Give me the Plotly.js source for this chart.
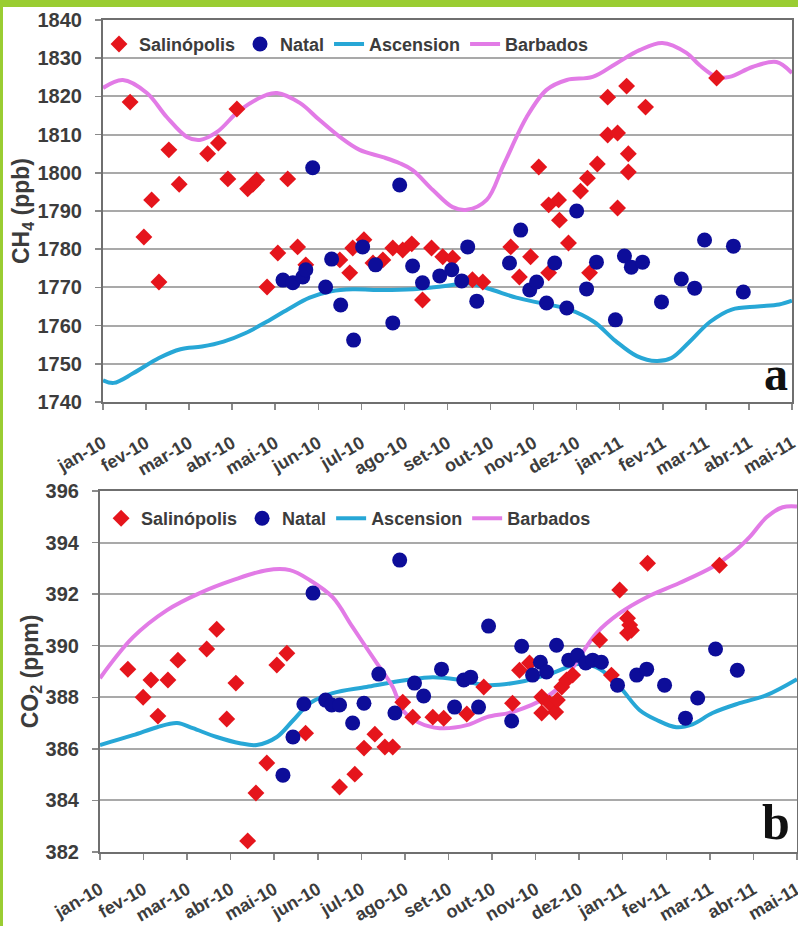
<!DOCTYPE html>
<html><head><meta charset="utf-8">
<script src="https://cdn.plot.ly/plotly-3.0.1.min.js"></script>
<style>
html,body{margin:0;padding:0;background:#fff;}
#wrap{position:relative;width:798px;height:926px;overflow:hidden;}
#chart{width:798px;height:926px;}
#frame{position:absolute;left:0;top:0;width:798px;height:926px;box-sizing:border-box;border-top:7px solid #9acd32;border-left:3px solid #9acd32;pointer-events:none;}
</style></head><body>
<div id="wrap"><div id="chart"></div><div id="frame"></div></div>
<script>
// Month tick labels (month index 0 = jan-10)
const monthLabels = ["jan-10","fev-10","mar-10","abr-10","mai-10","jun-10","jul-10","ago-10","set-10","out-10","nov-10","dez-10","jan-11","fev-11","mar-11","abr-11","mai-11"];
const monthTicks = [0,1,2,3,4,5,6,7,8,9,10,11,12,13,14,15,16];

// ---- Panel a: CH4 (ppb) ----
const ch4SalMonth = [0.63,0.95,1.13,1.30,1.53,1.77,2.43,2.68,2.90,3.11,3.36,3.48,3.57,3.81,4.06,4.29,4.52,4.71,5.50,5.73,5.80,6.06,6.27,6.50,6.73,6.96,7.17,7.42,7.63,7.89,8.12,8.58,8.82,9.47,9.67,9.93,10.12,10.35,10.35,10.58,10.60,10.81,11.09,11.25,11.30,11.48,11.72,11.72,11.95,11.95,12.16,12.20,12.20,12.60,14.25];
const ch4SalValue = [1818.5,1783.2,1792.9,1771.4,1806,1797,1805,1807.8,1798.4,1816.7,1795.8,1797,1798.1,1770.1,1779,1798.4,1780.6,1775.9,1777.2,1773.8,1780.3,1782.5,1776.4,1777.2,1780.3,1779.8,1781.4,1766.7,1780.3,1778,1777.7,1772,1771.4,1780.6,1772.7,1778,1801.5,1791.6,1773.8,1792.9,1787.6,1781.6,1795.2,1798.6,1773.8,1802.3,1819.8,1809.9,1810.4,1790.8,1822.7,1805,1800.2,1817.2,1824.8];

const ch4NatMonth = [4.18,4.41,4.64,4.71,4.87,5.17,5.31,5.52,5.82,6.03,6.33,6.73,6.89,7.19,7.42,7.82,8.10,8.33,8.47,8.68,9.44,9.70,9.91,10.07,10.30,10.49,10.77,11.00,11.23,11.46,11.90,12.11,12.27,12.53,12.97,13.43,13.74,13.97,14.64,14.87];
const ch4NatValue = [1771.9,1771.2,1772.7,1774.6,1801.3,1770.1,1777.4,1765.4,1756.2,1780.6,1775.9,1760.7,1796.8,1775.6,1771.2,1773,1774.6,1771.7,1780.6,1766.4,1776.4,1785,1769.3,1771.4,1765.9,1776.4,1764.6,1790,1769.6,1776.6,1761.5,1778.2,1775.3,1776.6,1766.2,1772.2,1769.8,1782.4,1780.8,1768.8];

const ch4AscMonth = [0,0.25,0.7,1.3,1.8,2.3,2.8,3.3,3.8,4.3,4.8,5.3,5.8,6.5,7.2,7.9,8.5,9.0,9.6,10.2,10.8,11.4,11.9,12.4,12.85,13.2,13.6,14.1,14.6,15.2,15.7,16];
const ch4AscValue = [1745.7,1745,1747.5,1751.5,1753.8,1754.5,1755.8,1758,1761,1764.3,1767.3,1769,1769.5,1769.3,1769.5,1770.3,1771,1769.5,1767.3,1765.8,1764.3,1761,1756,1752,1750.7,1751.5,1755.5,1761,1764.2,1765,1765.5,1766.5];

const ch4BarMonth = [0,0.46,1.02,1.48,1.95,2.25,2.65,3.18,3.80,4.04,4.57,5.03,5.50,5.96,6.50,6.89,7.19,7.66,8.12,8.45,8.91,9.30,9.84,10.30,10.77,11.37,11.93,12.46,12.99,13.55,13.85,14.25,14.55,15.08,15.64,16];
const ch4BarValue = [1822.2,1824.3,1820.9,1814.6,1809.4,1808.6,1810.7,1816.4,1820.4,1820.9,1818.3,1813.8,1809.4,1806,1804.1,1802.5,1800.7,1795.5,1791,1790.3,1792.9,1802,1814.6,1821.7,1824.3,1825.1,1828.7,1832.1,1834,1831.4,1828.2,1825.1,1825.1,1827.7,1829,1826.1];

// ---- Panel b: CO2 (ppm) ----
const co2SalMonth = [0.64,0.99,1.17,1.33,1.56,1.79,2.45,2.68,2.91,3.12,3.39,3.58,3.83,4.06,4.29,4.72,5.50,5.85,6.06,6.31,6.54,6.72,6.95,7.18,7.64,7.89,8.42,8.81,9.47,9.63,9.86,10.14,10.14,10.32,10.46,10.50,10.60,10.71,10.85,11.47,11.74,11.93,12.11,12.16,12.20,12.11,12.57,14.22];
const co2SalValue = [389.09,388.0,388.67,387.27,388.67,389.44,389.87,390.64,387.16,388.55,382.43,384.29,385.45,389.25,389.71,386.61,384.52,385.02,386.03,386.57,386.07,386.07,387.81,387.23,387.23,387.19,387.35,388.40,387.77,389.05,389.33,388.01,387.39,387.77,387.43,387.89,388.40,388.67,388.86,390.22,388.86,392.16,391.07,390.80,390.60,390.49,393.2,393.12];

const co2NatMonth = [4.20,4.43,4.68,4.89,5.18,5.32,5.50,5.80,6.06,6.40,6.77,6.88,7.22,7.43,7.84,8.14,8.35,8.51,8.69,8.92,9.45,9.68,9.93,10.11,10.25,10.48,10.76,10.96,11.15,11.31,11.51,11.88,12.32,12.55,12.96,13.44,13.72,14.13,14.63];
const co2NatValue = [384.98,386.46,387.74,392.04,387.89,387.70,387.70,387.0,387.77,388.9,387.39,393.32,388.55,388.05,389.09,387.62,388.67,388.78,387.62,390.76,387.08,389.98,388.86,389.36,388.98,390.02,389.44,389.63,389.33,389.44,389.36,388.47,388.86,389.09,388.47,387.19,387.97,389.87,389.05];

const co2AscMonth = [0,0.76,1.31,1.77,2.13,2.68,3.21,3.60,4.06,4.43,4.82,5.34,6.12,7.04,7.64,8.26,8.88,9.63,10.32,11.01,11.47,11.93,12.39,12.78,13.23,13.60,14.06,14.68,15.30,16];
const co2AscValue = [386.15,386.53,386.84,387.0,386.8,386.46,386.22,386.15,386.46,387.1,387.77,388.16,388.40,388.67,388.78,388.67,388.47,388.59,388.9,389.3,389.1,388.4,387.5,387.12,386.84,386.95,387.39,387.77,388.08,388.7];

const co2BarMonth = [0,0.76,1.54,2.29,3.05,3.83,4.36,4.82,5.34,5.80,6.35,6.72,6.95,7.34,7.80,8.42,8.88,9.47,10.25,10.62,11.01,11.40,11.93,12.55,13.30,14.06,14.52,14.91,15.30,15.67,16];
const co2BarValue = [388.74,390.33,391.38,392.04,392.54,392.93,392.93,392.54,391.88,390.72,389.33,388.40,387.5,387.0,386.8,386.92,387.23,387.43,388.0,388.55,389.56,390.49,391.26,391.88,392.43,393.05,393.59,394.21,394.98,395.37,395.4];

const RED = "#e5151c", BLUE = "#0d0d99", CYAN = "#27a7d6", PINK = "#e27be6";
const FONT = "Liberation Sans, Arial, sans-serif";
const TXT = "#3c3c3c";
const NB = "\u00a0";

function lineTrace(x, y, name, color, xa, ya, leg, rank) {
  return {type:"scatter", mode:"lines", x:x, y:y, name:name, xaxis:xa, yaxis:ya, legend:leg, legendrank:rank,
    line:{color:color, width:4, shape:"spline", smoothing:1}, hoverinfo:"skip"};
}
function ptTrace(x, y, name, color, sym, size, xa, ya, leg, rank) {
  return {type:"scatter", mode:"markers", x:x, y:y, name:name, xaxis:xa, yaxis:ya, legend:leg, legendrank:rank,
    marker:{color:color, symbol:sym, size:size, line:{width:0}}, hoverinfo:"skip"};
}

const data = [
  lineTrace(ch4AscMonth, ch4AscValue, "Ascension", CYAN, "x", "y", "legend", 3),
  lineTrace(ch4BarMonth, ch4BarValue, "Barbados", PINK, "x", "y", "legend", 4),
  ptTrace(ch4SalMonth, ch4SalValue, "Salinópolis", RED, "diamond", 13, "x", "y", "legend", 1),
  ptTrace(ch4NatMonth, ch4NatValue, "Natal", BLUE, "circle", 15, "x", "y", "legend", 2),
  lineTrace(co2AscMonth, co2AscValue, "Ascension", CYAN, "x2", "y2", "legend2", 3),
  lineTrace(co2BarMonth, co2BarValue, "Barbados", PINK, "x2", "y2", "legend2", 4),
  ptTrace(co2SalMonth, co2SalValue, "Salinópolis", RED, "diamond", 13, "x2", "y2", "legend2", 1),
  ptTrace(co2NatMonth, co2NatValue, "Natal", BLUE, "circle", 15, "x2", "y2", "legend2", 2)
];

function xAxis(domain, anchor, standoff) {
  return {domain:domain, anchor:anchor, range:[0,16], tickmode:"array", tickvals:monthTicks, ticktext:monthLabels,
    tickangle:-30, ticks:"outside", ticklen:6, tickwidth:1.5, tickcolor:"#8a8a8a",
    showline:true, linecolor:"#6f6f6f", linewidth:2, mirror:true, showgrid:false, zeroline:false,
    tickfont:{family:FONT, size:18, color:TXT, weight:"bold"}, ticklabelstandoff:standoff,
    ticklabeloverflow:"allow", fixedrange:true};
}
function yAxis(domain, anchor, range, dtick, title) {
  return {domain:domain, anchor:anchor, range:range, dtick:dtick, tick0:range[0],
    ticks:"outside", ticklen:6, tickwidth:1.5, tickcolor:"#8a8a8a",
    showline:true, linecolor:"#6f6f6f", linewidth:2, mirror:true,
    showgrid:true, gridcolor:"#a9a9a9", gridwidth:2, zeroline:false,
    tickfont:{family:FONT, size:20, color:TXT, weight:"bold"}, ticklabelstandoff:9,
    title:{text:title, font:{family:FONT, size:23, color:TXT, weight:"bold"}, standoff:1}, fixedrange:true};
}

const layout = {
  width:798, height:926,
  margin:{l:99, r:1, t:20, b:74},
  paper_bgcolor:"#ffffff", plot_bgcolor:"#ffffff",
  font:{family:FONT, color:TXT},
  showlegend:true,
  xaxis: xAxis([0.0057,0.9928], "y", 16),
  yaxis: yAxis([0.5409,1], "x", [1740,1840], 10, "CH<sub>4</sub> (ppb)" + NB.repeat(6)),
  xaxis2: xAxis([0.0014,1], "y2", 12),
  yaxis2: yAxis([0,0.4339], "x2", [382,396], 2, "CO<sub>2</sub> (ppm)" + NB.repeat(6)),
  legend:{x:0, y:0.993, xanchor:"left", yanchor:"top", orientation:"h", bgcolor:"rgba(0,0,0,0)",
    font:{family:FONT, size:18, color:TXT, weight:"bold"}, itemwidth:30, traceorder:"normal"},
  legend2:{x:0.003, y:0.423, xanchor:"left", yanchor:"top", orientation:"h", bgcolor:"rgba(0,0,0,0)",
    font:{family:FONT, size:18, color:TXT, weight:"bold"}, itemwidth:30, traceorder:"normal"},
  annotations:[
    {text:"<b>a</b>", xref:"x domain", yref:"y domain", x:0.997, y:0.0, xanchor:"right", yanchor:"bottom",
     showarrow:false, font:{family:"Liberation Serif, Times New Roman, serif", size:48, color:"#111"}},
    {text:"<b>b</b>", xref:"x2 domain", yref:"y2 domain", x:0.993, y:0.0, xanchor:"right", yanchor:"bottom",
     showarrow:false, font:{family:"Liberation Serif, Times New Roman, serif", size:50, color:"#111"}}
  ]
};

Plotly.newPlot("chart", data, layout, {displayModeBar:false, staticPlot:true});
</script>
</body></html>
